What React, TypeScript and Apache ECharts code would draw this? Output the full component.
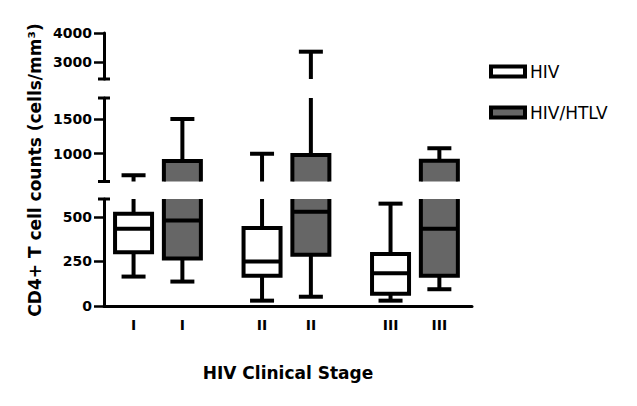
import React, { useEffect, useRef } from 'react';
import * as echarts from 'echarts';

// HIV clinical stages (category labels)
const stages = ['I', 'II', 'III'];
const seriesNames = ['HIV', 'HIV/HTLV'];
const seriesFills = ['#ffffff', '#666666'];

// Box plot values per stage: [min, Q1, median, Q3, max] (cells/mm³)
const hivBoxes = [
  [165, 301, 433, 517, 690],
  [30, 169, 250, 438, 1000],
  [30, 68, 184, 292, 574],
];
const htlvBoxes = [
  [137, 267, 479, 895, 1500],
  [52, 288, 528, 981, 3350],
  [94, 169, 433, 899, 1078],
];

// Broken y axis: three segments (low, middle, high)
const segMin = [0, 600, 2400];
const segMax = [600, 1800, 4000];
const segTicks = [
  [0, 250, 500],
  [1000, 1500],
  [3000, 4000],
];

const FONT = 'DejaVu Sans';

export default function App() {
  const ref = useRef<HTMLDivElement>(null);

  useEffect(() => {
    if (!ref.current) return;
    const chart = echarts.init(ref.current, null, { renderer: 'svg' });

    const groupOffset = 0.19;
    const boxPositions: number[] = [];
    const boxLabels: string[] = [];
    stages.forEach((s, i) => {
      boxPositions.push(i - groupOffset, i + groupOffset);
      boxLabels.push(s, s);
    });

    // grid geometry: index 0 = bottom segment, 1 = middle, 2 = top
    const gridTops = [199, 98, 33];
    const gridHeights = [107, 83.5, 46];

    const grids = gridTops.map((t, i) => ({
      left: 104,
      right: 165,
      top: t,
      height: gridHeights[i],
      containLabel: false,
    }));

    const xAxes = gridTops.map((_, i) => ({
      type: 'value',
      gridIndex: i,
      min: -0.42,
      max: 2.444,
      show: i === 0,
      splitLine: { show: false },
      axisLine: { show: true, onZero: false, lineStyle: { color: '#000', width: 3 } },
      axisTick: { show: false },
      axisLabel: {
        show: i === 0,
        customValues: boxPositions,
        formatter: (v: number) => {
          let best = 0;
          boxPositions.forEach((p, k) => {
            if (Math.abs(p - v) < Math.abs(boxPositions[best] - v)) best = k;
          });
          return boxLabels[best];
        },
        color: '#000',
        fontFamily: FONT,
        fontWeight: 'bold',
        fontSize: 14,
        margin: 12,
      },
      name: i === 0 ? 'HIV Clinical Stage' : '',
      nameLocation: 'middle',
      nameGap: 58,
      nameTextStyle: { color: '#000', fontFamily: FONT, fontWeight: 'bold', fontSize: 17 },
    }));

    const yAxes = gridTops.map((_, i) => ({
      type: 'value',
      gridIndex: i,
      min: segMin[i],
      max: segMax[i],
      splitLine: { show: false },
      axisLine: {
        show: true,
        onZero: false,
        symbol: i === 0 ? ['none', 'rect'] : i === 1 ? ['rect', 'rect'] : ['rect', 'none'],
        symbolSize: [12, 3],
        lineStyle: { color: '#000', width: 3 },
      },
      axisTick: {
        show: true,
        customValues: segTicks[i],
        length: 10,
        lineStyle: { color: '#000', width: 2.5 },
      },
      axisLabel: {
        customValues: segTicks[i],
        formatter: (v: number) => String(v),
        color: '#000',
        fontFamily: FONT,
        fontWeight: 'bold',
        fontSize: 14,
        margin: 12,
      },
    }));

    const renderItem = (fill: string, lo0: number, hi0: number) => (params: any, api: any) => {
      const x = api.value(0);
      const lo = api.value(1);
      const q1 = api.value(2);
      const med = api.value(3);
      const q3 = api.value(4);
      const hi = api.value(5);
      const px = api.coord([x, lo])[0];
      const y = (v: number) => api.coord([x, v])[1];
      const inside = (v: number) => v >= lo0 && v <= hi0;
      const stroke = { stroke: '#000', lineWidth: 4, lineCap: 'butt' };
      const half = 18.5;
      const cap = 12;
      const children: any[] = [];
      if (hi > lo0 && q3 < hi0)
        children.push({ type: 'line', shape: { x1: px, y1: y(hi), x2: px, y2: y(q3) }, style: stroke });
      if (q1 > lo0 && lo < hi0)
        children.push({ type: 'line', shape: { x1: px, y1: y(q1), x2: px, y2: y(lo) }, style: stroke });
      if (inside(hi))
        children.push({ type: 'line', shape: { x1: px - cap, y1: y(hi), x2: px + cap, y2: y(hi) }, style: stroke });
      if (inside(lo))
        children.push({ type: 'line', shape: { x1: px - cap, y1: y(lo), x2: px + cap, y2: y(lo) }, style: stroke });
      if (q3 > lo0 && q1 < hi0)
        children.push({
          type: 'rect',
          shape: { x: px - half, y: y(q3), width: half * 2, height: y(q1) - y(q3) },
          style: { fill, stroke: '#000', lineWidth: 4 },
        });
      if (inside(med))
        children.push({ type: 'line', shape: { x1: px - half, y1: y(med), x2: px + half, y2: y(med) }, style: stroke });
      return { type: 'group', children };
    };

    const allBoxes = [hivBoxes, htlvBoxes];
    const series: any[] = [];
    gridTops.forEach((_, gi) => {
      allBoxes.forEach((boxes, si) => {
        series.push({
          type: 'custom',
          name: seriesNames[si],
          xAxisIndex: gi,
          yAxisIndex: gi,
          clip: true,
          itemStyle: { color: seriesFills[si] },
          renderItem: renderItem(seriesFills[si], segMin[gi], segMax[gi]),
          encode: { x: 0, y: [1, 2, 3, 4, 5] },
          data: boxes.map((b, k) => [k + (si === 0 ? -groupOffset : groupOffset), ...b]),
        });
      });
    });

    chart.setOption({
      animation: false,
      backgroundColor: '#fff',
      grid: grids,
      xAxis: xAxes,
      yAxis: yAxes,
      legend: {
        data: seriesNames,
        orient: 'vertical',
        left: 484,
        top: 58,
        icon: 'rect',
        itemWidth: 34,
        itemHeight: 10,
        itemGap: 24,
        itemStyle: { borderColor: '#000', borderWidth: 4 },
        textStyle: { color: '#000', fontFamily: FONT, fontSize: 17 },
      },
      graphic: [
        {
          type: 'text',
          x: 35,
          y: 170,
          rotation: Math.PI / 2,
          style: {
            text: 'CD4+ T cell counts (cells/mm³)',
            fill: '#000',
            font: `bold 17px "${FONT}"`,
            align: 'center',
            verticalAlign: 'middle',
          },
        },
      ],
      series,
    });

    return () => chart.dispose();
  }, []);

  return (
    <div
      ref={ref}
      style={{ position: 'absolute', left: 0, top: 0, width: 637, height: 406 }}
    />
  );
}
